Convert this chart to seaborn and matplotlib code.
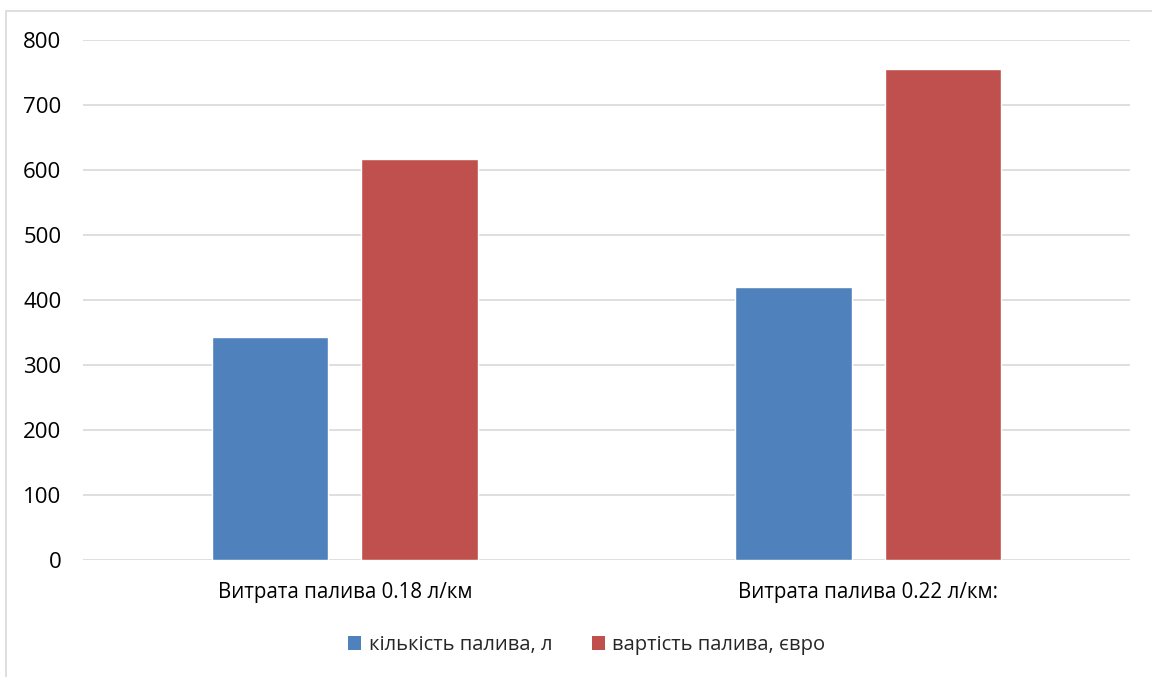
import matplotlib
matplotlib.use("Agg")
import matplotlib.pyplot as plt
from matplotlib.patches import Rectangle, Patch
import seaborn as sns
import pandas as pd

categories = ["Витрата палива 0.18 л/км", "Витрата палива 0.22 л/км:"]
series_names = ["кількість палива, л", "вартість палива, євро"]
fuel_litres = [343, 420]
fuel_cost_eur = [617, 755]
y_ticks = [0, 100, 200, 300, 400, 500, 600, 700, 800]

colors = ["#4F81BD", "#C0504D"]
grid_color = "#D9D9D9"

df = pd.DataFrame({
    "category": categories * 2,
    "series": [series_names[0]] * 2 + [series_names[1]] * 2,
    "value": fuel_litres + fuel_cost_eur,
})

sns.set_theme(style="white")
plt.rcParams["font.family"] = ["Open Sans", "DejaVu Sans"]

W, H = 1152, 677
fig = plt.figure(figsize=(W / 100, H / 100), dpi=100)
fig.patch.set_facecolor("white")

# outer chart border
fig.patches.append(Rectangle((6 / W, -0.05), 1.2, 1 - 11 / H + 0.05,
                             transform=fig.transFigure, fill=False,
                             edgecolor="#D9D9D9", linewidth=1.2))

ax = fig.add_axes([83 / W, 1 - 560 / H, (1130 - 83) / W, (560 - 40) / H])
sns.barplot(data=df, x="category", y="value", hue="series",
            palette=colors, width=0.571, gap=0.22, ax=ax,
            saturation=1, legend=False, errorbar=None)

ax.set_ylim(0, 800)
ax.set_xlim(-0.5, 1.5)
ax.set_yticks(y_ticks)
ax.yaxis.grid(True, color=grid_color, linewidth=1.2)
ax.set_axisbelow(True)
for s in ax.spines.values():
    s.set_visible(False)
ax.tick_params(axis="y", length=0, pad=15.5, labelsize=16, labelcolor="#000000")
ax.tick_params(axis="x", length=0, pad=16, labelsize=14.8, labelcolor="#000000")
ax.set_xlabel("")
ax.set_ylabel("")

handles = [Patch(facecolor=c, edgecolor="none") for c in colors]
fig.legend(handles, series_names, loc="center",
           bbox_to_anchor=(587 / W, 1 - 645 / H), ncol=2, frameon=False,
           fontsize=14.5, handlelength=0.65, handleheight=0.65,
           handletextpad=0.35, columnspacing=2.0)

fig.savefig("out.png", dpi=100, facecolor="white")
